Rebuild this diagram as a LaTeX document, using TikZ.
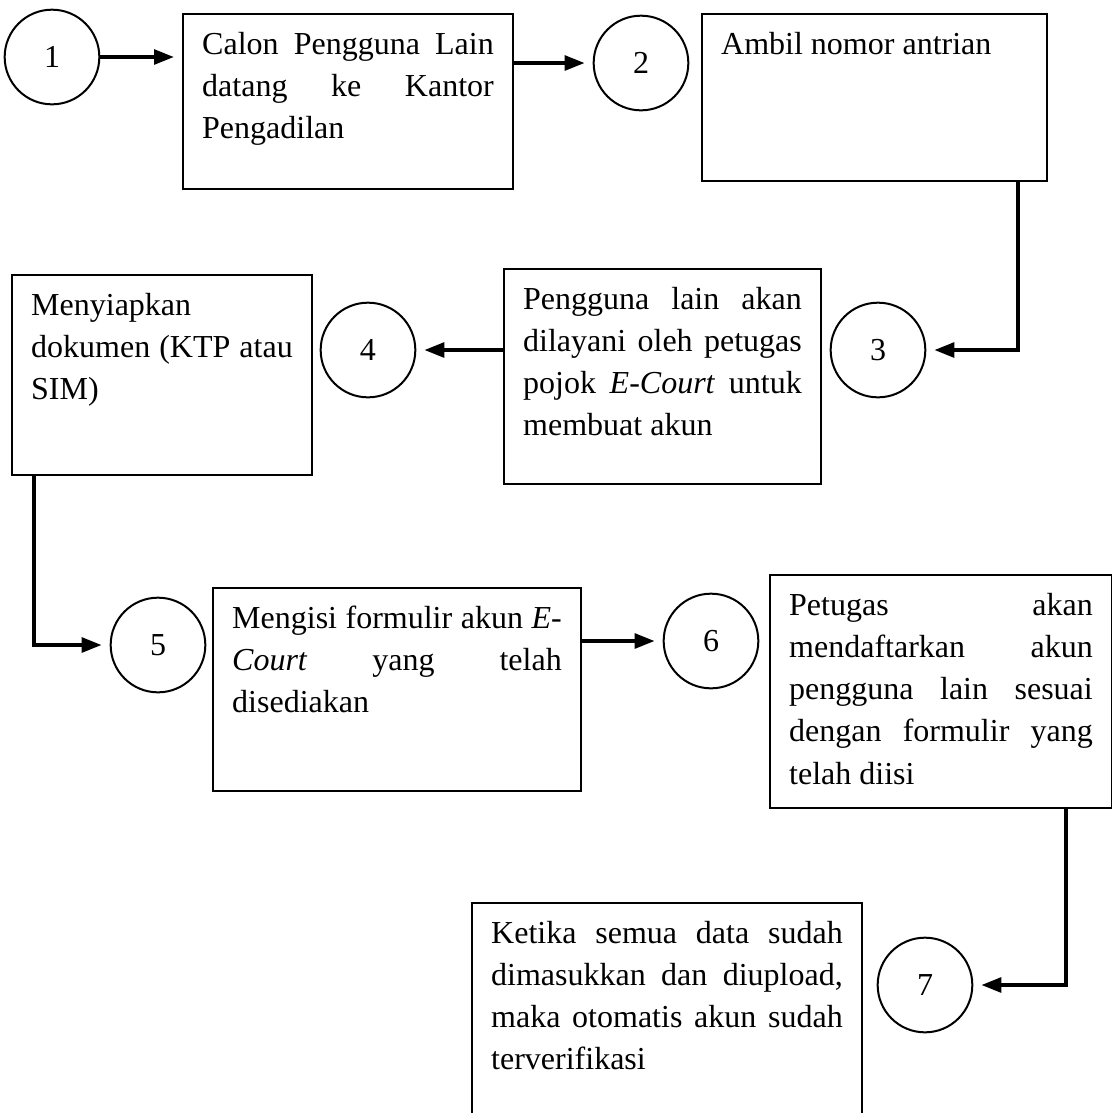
\documentclass[tikz,border=0pt]{standalone}
\usepackage{fontspec}
\setmainfont{Liberation Serif}
\usetikzlibrary{shapes.geometric, arrows.meta}
\tikzstyle{block} = [rectangle, draw, line width=0.75pt, anchor=north west, align=justify, inner xsep=7.2pt, inner ysep=0pt, text height=15pt]
\tikzstyle{bubble} = [circle, draw, line width=0.75pt, minimum size=35.5pt, inner sep=0pt]
\tikzstyle{line} = [draw, line width=1.4pt, -{Triangle[length=7.5pt, width=5.5pt]}, shorten >=3pt]
\hyphenpenalty=10000
\tolerance=10000
\hbadness=10000

\begin{document}
\begin{tikzpicture}[x=0.375pt, y=-0.375pt, font=\fontsize{12}{15.87}\selectfont]
  \useasboundingbox (0,0) rectangle (1112,1113);
  % row 1
  \node [bubble] (n1) at (52,57) {1};
  \node [block, text width=109.35pt, text depth=50.6pt] (b1) at (182,13) {Calon Pengguna Lain\linebreak datang ke Kantor\linebreak Pengadilan};
  \node [bubble] (n2) at (641,63) {2};
  \node [block, text width=114.98pt, text depth=47.6pt] (b2) at (701,13) {Ambil nomor antrian};
  % row 2
  \node [bubble] (n3) at (878,350) {3};
  \node [block, text width=104.48pt, text depth=65.6pt] (b3) at (503,268) {Pengguna lain akan\linebreak dilayani oleh petugas\linebreak pojok \textit{E-Court} untuk\linebreak membuat akun};
  \node [bubble] (n4) at (368,350) {4};
  \node [block, text width=98.1pt, text depth=60pt] (b4) at (11,274) {Menyiapkan\linebreak dokumen (KTP atau\linebreak SIM)};
  % row 3
  \node [bubble] (n5) at (158,645) {5};
  \node [block, text width=123.6pt, text depth=61.1pt] (b5) at (212,587) {Mengisi formulir akun \textit{E-}\linebreak \textit{Court} yang telah\linebreak disediakan};
  \node [bubble] (n6) at (711,641) {6};
  \node [block, text width=113.85pt, text depth=72.4pt] (b6) at (769,574) {Petugas akan\linebreak mendaftarkan akun\linebreak pengguna lain sesuai\linebreak dengan formulir yang\linebreak telah diisi};
  % row 4
  \node [bubble] (n7) at (925,985) {7};
  \node [block, text width=131.85pt, text depth=80pt] (b7) at (471,902) {Ketika semua data sudah\linebreak dimasukkan dan diupload,\linebreak maka otomatis akun sudah\linebreak terverifikasi};

  \path [line] (n1) -- (b1.west |- n1);
  \path [line] (b1.east |- n2) -- (n2);
  \path [line] ([xshift=-11.25pt]b2.south east) |- (n3);
  \path [line] (b3.west |- n4) -- (n4);
  \path [line] ([xshift=8.6pt]b4.south west) |- (n5);
  \path [line] (b5.east |- n6) -- (n6);
  \path [line] ([xshift=-17.6pt]b6.south east) |- (n7);
\end{tikzpicture}
\end{document}
